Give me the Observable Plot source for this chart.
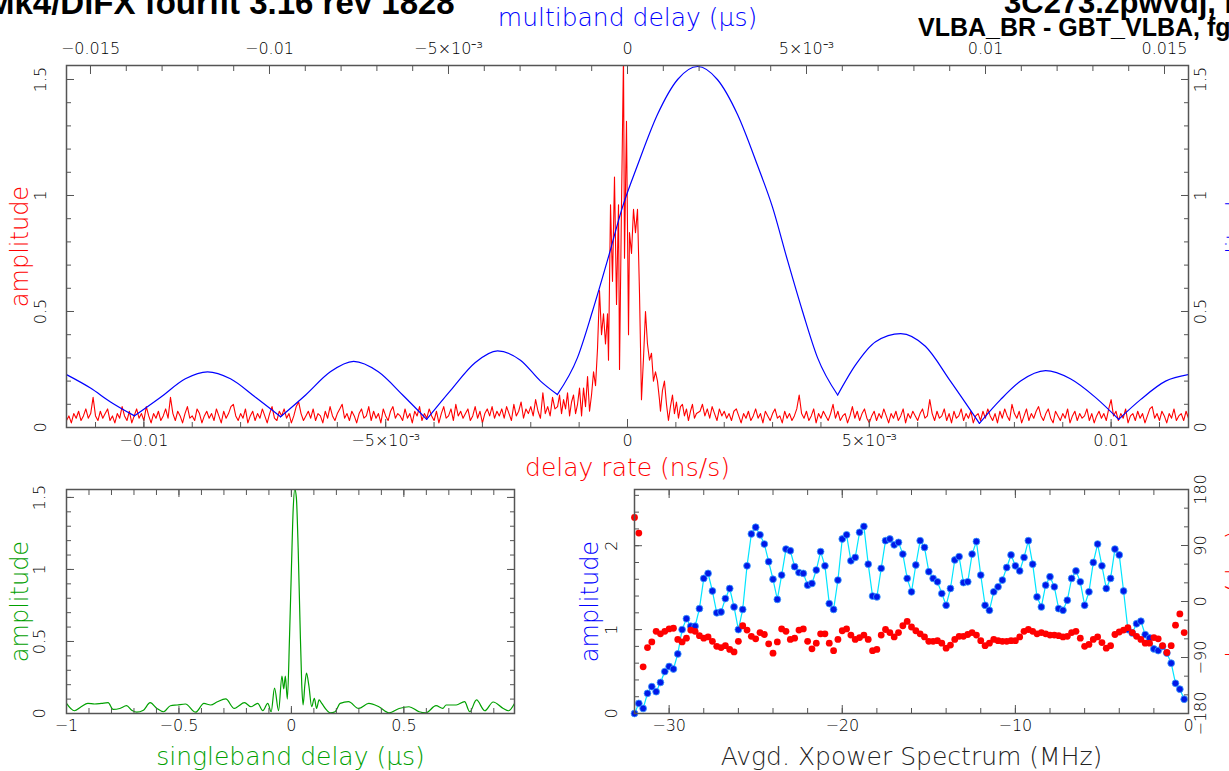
<!DOCTYPE html>
<html><head><meta charset="utf-8">
<script src="https://cdn.jsdelivr.net/npm/d3@7"></script>
<script src="https://cdn.jsdelivr.net/npm/@observablehq/plot@0.6"></script>
<style>
body{margin:0;background:#fff;}
#wrap{position:relative;width:1229px;height:771px;overflow:hidden;background:#fff;}
.ttl{position:absolute;font-family:"Liberation Sans",Arial,sans-serif;font-weight:bold;white-space:nowrap;color:#000;line-height:1;}
</style></head><body><div id="wrap">
<div class="ttl" style="left:-13px;top:-14px;font-size:33px;">Mk4/DiFX fourfit 3.16 rev 1828</div>
<div class="ttl" style="left:1004px;top:-13px;font-size:31px;">3C273.zpwvdj, No0004, BG</div>
<div class="ttl" style="left:918px;top:15px;font-size:25px;">VLBA_BR - GBT_VLBA, fgroup X, pol LL</div>
</div>
<script>
// ---------------- DATA ----------------
// multiband delay (us) vs amplitude (blue)
const multibandDelay = [-0.01567,-0.0150,-0.01444,-0.01377,-0.01304,-0.01235,-0.01173,-0.01109,-0.01039,-0.00969,-0.00899,-0.0083,-0.00765,-0.00696,-0.00628,-0.00561,-0.00494,-0.00425,-0.00363,-0.00299,-0.00243,-0.00196,-0.0014,-0.00098,-0.00056,-0.00014,0.00028,0.00084,0.0014,0.00196,0.00251,0.00307,0.00363,0.00405,0.00447,0.00489,0.00531,0.00587,0.00637,0.00693,0.00763,0.00832,0.00902,0.00983,0.01042,0.01098,0.01168,0.01237,0.01307,0.01372,0.01433,0.01503,0.01567];
const multibandAmp = [0.228,0.17,0.11,0.05,0.13,0.21,0.24,0.21,0.13,0.046,0.14,0.24,0.285,0.24,0.14,0.035,0.16,0.28,0.33,0.29,0.20,0.142,0.30,0.50,0.72,0.95,1.13,1.35,1.50,1.556,1.50,1.35,1.13,0.95,0.72,0.50,0.30,0.14,0.27,0.37,0.405,0.35,0.20,0.018,0.12,0.20,0.245,0.21,0.13,0.035,0.12,0.20,0.228];

// delay rate (ns/s) vs amplitude (red): left & right sampled every 5e-5 ns/s, centre listed
const rateStep = 0.00005;
const rateLeftStart = -0.0116;
const rateAmpLeft = [.03,.05,.02,.06,.04,.07,.03,.05,.08,.04,.06,.13,.05,.03,.07,.04,.06,.08,.03,.05,
.02,.06,.04,.09,.05,.03,.07,.02,.05,.08,.04,.06,.03,.09,.05,.02,.06,.04,.07,.03,
.05,.08,.04,.13,.06,.03,.07,.05,.02,.06,.09,.04,.05,.03,.08,.06,.02,.05,.07,.04,
.06,.03,.08,.05,.02,.07,.04,.06,.09,.10,.05,.03,.06,.04,.08,.02,.05,.07,.03,.06,
.04,.08,.05,.02,.06,.09,.04,.03,.07,.05,.08,.04,.06,.02,.05,.09,.11,.06,.03,.05,
.07,.04,.08,.03,.06,.05,.02,.07,.04,.09,.05,.03,.06,.08,.10,.04,.06,.03,.07,.05,
.02,.06,.08,.04,.05,.09,.03,.07,.04,.06,.02,.08,.05,.03,.07,.09,.04,.06,.05,.03,
.08,.04,.06,.02,.07,.05,.09,.03,.06,.04,.08,.05,.03,.07,.02,.06,.09,.04,.05,.08,
.03,.10,.05,.07,.04,.06,.08,.03,.05,.09,.04,.07,.02,.06,.08,.05,.09,.04,.07,.05,
.08,.04,.09,.06,.03,.10,.05,.07,.11,.04,.08,.06,.09,.05,.12,.07,.04,.15,.06,.09,
.05,.13,.08];
const rateCenter = [-0.001446,-0.001405,-0.001364,-0.001322,-0.001281,-0.00124,-0.001198,-0.001157,-0.001116,-0.001074,-0.001033,-0.000992,-0.00095,-0.000909,-0.000868,-0.000826,-0.000785,-0.000744,-0.000702,-0.000661,-0.00062,-0.000579,-0.000537,-0.000496,-0.000455,-0.000413,-0.000393,-0.000351,-0.00031,-0.000269,-0.000227,-0.000186,-0.000165,-0.000124,-0.000083,-0.000062,-0.000021,0.000021,0.000041,0.000083,0.000124,0.000165,0.000207,0.000248,0.000289,0.000331,0.000372,0.000413,0.000455,0.000496,0.000537,0.000579,0.00062,0.000661,0.000682,0.000723,0.000764,0.000806,0.000847,0.000888,0.00093,0.000971,0.001012,0.001054,0.001095,0.001136,0.001178,0.001219,0.00126,0.001302,0.001343,0.001384,0.001426];
const rateAmpCenter = [.09,.14,.06,.12,.08,.15,.05,.11,.14,.06,.10,.17,.05,.17,.09,.22,.07,.14,.24,.18,.34,.59,.40,.49,.36,.49,.29,.96,.63,1.08,.53,.96,.25,.96,1.60,.73,1.32,.40,.84,.75,.94,.84,.94,.58,.12,.30,.50,.36,.29,.32,.20,.24,.20,.12,.07,.16,.20,.10,.03,.09,.14,.06,.11,.04,.09,.10,.05,.08,.03,.07,.10,.04,.06];
const rateRightStart = 0.0015;
const rateAmpRight = [.07,.10,.05,.08,.04,.09,.06,.03,.08,.05,.07,.04,.06,.03,.07,.08,.05,.02,.06,.04,
.07,.03,.05,.08,.04,.06,.02,.07,.05,.03,.06,.08,.04,.05,.02,.07,.04,.06,.03,.05,
.08,.14,.06,.04,.07,.03,.05,.08,.02,.06,.04,.07,.05,.03,.06,.10,.04,.07,.03,.05,
.06,.02,.05,.09,.04,.07,.03,.06,.08,.04,.02,.05,.07,.03,.06,.04,.08,.05,.02,.06,
.04,.07,.03,.05,.08,.02,.06,.04,.07,.05,.03,.06,.08,.04,.05,.12,.06,.03,.07,.04,
.05,.08,.03,.06,.02,.07,.04,.05,.08,.03,.06,.04,.07,.02,.05,.06,.03,.07,.04,.08,
.05,.03,.06,.02,.07,.04,.08,.05,.03,.10,.06,.04,.07,.02,.05,.08,.03,.06,.04,.07,
.09,.05,.03,.06,.08,.04,.02,.07,.05,.03,.06,.04,.08,.02,.05,.07,.03,.06,.04,.05,
.08,.03,.06,.02,.05,.07,.04,.06,.03,.08,.12,.05,.07,.03,.06,.04,.08,.02,.05,.06,
.03,.07,.04,.06,.02,.05,.08,.09,.04,.06,.03,.07,.05,.02,.06,.04,.08,.03,.05,.06,
.03,.07,.04];

// singleband delay (us) vs amplitude (green)
const singlebandDelay = [-1.0,-0.965,-0.935,-0.905,-0.875,-0.845,-0.815,-0.793,-0.763,-0.733,-0.71,-0.688,-0.658,-0.628,-0.598,-0.568,-0.538,-0.508,-0.471,-0.426,-0.389,-0.359,-0.329,-0.292,-0.254,-0.239,-0.209,-0.179,-0.15,-0.127,-0.105,-0.09,-0.075,-0.057,-0.042,-0.034,-0.027,-0.018,-0.008,0,0.008,0.015,0.022,0.03,0.038,0.046,0.052,0.06,0.067,0.078,0.09,0.102,0.112,0.123,0.135,0.157,0.172,0.194,0.217,0.254,0.299,0.344,0.389,0.434,0.479,0.523,0.568,0.598,0.643,0.673,0.688,0.733,0.77,0.793,0.823,0.86,0.897,0.942,0.965,0.992];
const singlebandAmp = [.07,.019,.047,.07,.066,.07,.075,.028,.035,.054,.023,.009,.023,.075,.035,.012,.054,.059,.066,.009,.07,.059,.082,.101,.035,.047,.075,.047,.07,.019,.07,.012,.176,.02,.26,.17,.26,.10,.55,1.0,1.42,1.557,1.50,1.15,.65,.20,.06,.20,.28,.19,.047,.105,.035,.094,.07,.023,.005,.012,.07,.082,.035,.07,.047,.005,.035,.047,.012,.005,.054,.035,.059,.059,.082,.012,.094,.019,.08,.035,.019,.07];

// averaged cross-power spectrum: 128 channels, every 0.25 MHz from -32 MHz
const xpowerFreqStart = -32, xpowerFreqStep = 0.25;
const xpowerAmp = [0,0.12,0.06,0.24,0.32,0.26,0.37,0.50,0.56,0.53,
0.71,1.00,1.13,1.04,1.04,1.25,1.61,1.67,1.46,1.20,
1.21,1.37,1.49,1.27,1.00,1.24,1.76,2.14,2.22,2.13,
2.02,1.81,1.60,1.36,1.65,1.96,1.94,1.75,1.68,1.67,
1.53,1.55,1.71,1.93,1.76,1.31,1.24,1.59,2.08,2.13,
1.82,1.86,2.16,2.23,1.78,1.40,1.39,1.73,2.06,2.08,
2.01,2.04,1.90,1.61,1.45,1.77,2.06,1.98,1.69,1.61,
1.57,1.43,1.29,1.49,1.83,1.87,1.56,1.57,1.90,2.05,
1.65,1.29,1.23,1.45,1.51,1.59,1.74,1.89,1.76,1.70,
1.86,2.06,1.78,1.39,1.27,1.53,1.63,1.51,1.25,1.23,
1.35,1.61,1.70,1.57,1.29,1.45,1.80,2.02,1.76,1.49,
1.61,1.96,1.89,1.46,1.00,0.96,1.07,1.10,0.94,0.90,
0.77,0.75,0.80,0.72,0.60,0.36,0.29,0.17];
const xpowerPhase = [135,110,-105,-74,-65,-48,-52,-48,-44,-43,
-61,-65,-59,-46,-48,-55,-59,-57,-64,-72,
-74,-71,-77,-81,-64,-39,-46,-56,-60,-50,
-53,-68,-83,-65,-44,-48,-61,-59,-46,-44,
-64,-76,-67,-52,-52,-67,-79,-61,-47,-44,
-54,-61,-58,-54,-61,-79,-77,-54,-45,-50,
-57,-50,-39,-32,-41,-47,-52,-57,-64,-64,
-63,-67,-75,-70,-61,-56,-56,-53,-50,-54,
-63,-71,-67,-61,-63,-64,-64,-63,-63,-57,
-48,-45,-48,-52,-50,-52,-54,-54,-55,-57,
-56,-50,-48,-59,-72,-69,-61,-57,-66,-75,
-71,-53,-49,-46,-42,-50,-56,-61,-67,-67,
-58,-60,-71,-82,-71,-38,-20,-50];

// tick labels
const rateTickLabels = new Map([[-0.01,"−0.01"],[-0.005,"−5×10⁻³"],[0,"0"],[0.005,"5×10⁻³"],[0.01,"0.01"]]);
const mbdTickLabels = new Map([[-0.015,"−0.015"],[-0.01,"−0.01"],[-0.005,"−5×10⁻³"],[0,"0"],[0.005,"5×10⁻³"],[0.01,"0.01"],[0.015,"0.015"]]);
const ampTickLabels = new Map([[0,"0"],[0.5,"0.5"],[1,"1"],[1.5,"1.5"]]);
const sbdTickLabels = new Map([[-1,"−1"],[-0.5,"−0.5"],[0,"0"],[0.5,"0.5"]]);
const freqTickLabels = new Map([[-30,"−30"],[-20,"−20"],[-10,"−10"],[0,"0"]]);
const xampTickLabels = new Map([[0,"0"],[1,"1"],[2,"2"]]);
const phaseTickLabels = new Map([[-180,"−180"],[-90,"−90"],[0,"0"],[90,"90"],[180,"180"]]);

// ---------------- BUILD ----------------
const redData = [
  ...rateAmpLeft.map((a, j) => ({rate: rateLeftStart + j * rateStep, amp: a})),
  ...rateCenter.map((r, i) => ({rate: r, amp: rateAmpCenter[i]})),
  ...rateAmpRight.map((a, j) => ({rate: rateRightStart + j * rateStep, amp: a}))
];
function splitAtMinima(xs, ys) {
  const out = []; let seg = 0;
  for (let i = 0; i < xs.length; i++) {
    out.push({x: xs[i], y: ys[i], seg});
    if (i > 0 && i < xs.length - 1 && ys[i] < ys[i-1] && ys[i] < ys[i+1]) { seg++; out.push({x: xs[i], y: ys[i], seg}); }
  }
  return out;
}
const blueData = splitAtMinima(multibandDelay, multibandAmp);
const greenData = singlebandDelay.map((d, i) => ({d, a: singlebandAmp[i]}));
const xpData = xpowerAmp.map((a, k) => ({f: xpowerFreqStart + k * xpowerFreqStep, a, p: xpowerPhase[k]}));

const FONT = "'DejaVu Sans', sans-serif";
const FRAME = "#555";
const TXT = "#000";
const TITLE = 25;
const baseStyle = {background: "transparent", overflow: "visible", fontFamily: FONT, fontSize: "16px", color: TXT, fontWeight: "200"};
const range = (a, b, s) => d3.range(Math.round(a / s), Math.round(b / s) + 1).map(i => +(i * s).toFixed(6));

function tX(vals, anchor, size) { return Plot.axisX(vals, {anchor, tickSize: -size, tickFormat: () => "", label: null, stroke: FRAME}); }
function tY(vals, anchor, size) { return Plot.axisY(vals, {anchor, tickSize: -size, tickFormat: () => "", label: null, stroke: FRAME}); }
function lX(map, anchor, pad) { return Plot.axisX([...map.keys()], {anchor, tickSize: 0, tickPadding: pad, tickFormat: d => map.get(d), label: null, fill: TXT, fontSize: 16}); }
function lY(map, anchor, pad) { return Plot.axisY([...map.keys()], {anchor, tickSize: 0, tickPadding: pad, tickRotate: -90, textAnchor: "middle", tickFormat: d => map.get(d), label: null, fill: TXT, fontSize: 16}); }
function titleY(label, side, dx, color) { return Plot.text([label], {frameAnchor: side, dx, rotate: -90, textAnchor: "middle", lineAnchor: "middle", fill: color, fontSize: 24, fontWeight: 200}); }
function titleX(label, side, dy, color) { return Plot.text([label], {frameAnchor: side, dy, textAnchor: "middle", lineAnchor: "middle", fill: color, fontSize: TITLE, fontWeight: 200}); }

const wrap = document.getElementById("wrap");
function place(svg, left, top) { svg.style.position = "absolute"; svg.style.left = left + "px"; svg.style.top = top + "px"; svg.style.maxWidth = "none"; wrap.appendChild(svg); }

// Main panel, layer 1: delay rate (red)
const mainDims = {width: 1229, height: 470, marginTop: 65, marginRight: 41, marginBottom: 43, marginLeft: 66};
place(Plot.plot({
  ...mainDims, style: baseStyle,
  x: {domain: [-0.0116, 0.0116]}, y: {domain: [0, 1.5603]},
  marks: [
    Plot.line(redData, {x: "rate", y: "amp", stroke: "#ff0000", strokeWidth: 1.1, clip: true}),
    tX(range(-0.011, 0.011, 0.001), "bottom", 5),
    tX([...rateTickLabels.keys()], "bottom", 8),
    lX(rateTickLabels, "bottom", 7),
    tY(range(0, 1.5, 0.1), "left", 5),
    tY([...ampTickLabels.keys()], "left", 8),
    lY(ampTickLabels, "left", 21),
    titleY("amplitude", "left", -46, "#ff0000"),
    titleX("delay rate (ns/s)", "bottom", 40, "#ff0000")
  ]
}), 0, 0);

// Main panel, layer 2: multiband delay (blue)
place(Plot.plot({
  ...mainDims, style: baseStyle,
  x: {domain: [-0.01567, 0.01567]}, y: {domain: [0, 1.5603]},
  marks: [
    Plot.line(blueData, {x: "x", y: "y", z: "seg", stroke: "#0000ff", strokeWidth: 1.2, curve: "monotone-x", clip: true}),
    tX(range(-0.015, 0.015, 0.001), "top", 5),
    tX([...mbdTickLabels.keys()], "top", 8),
    lX(mbdTickLabels, "top", 12),
    tY(range(0, 1.5, 0.1), "right", 5),
    tY([...ampTickLabels.keys()], "right", 8),
    lY(ampTickLabels, "right", 17),
    titleY("amplitude", "right", 48, "#0000ff"),
    titleX("multiband delay (μs)", "top", -48, "#0000ff"),
    Plot.frame({stroke: FRAME, strokeWidth: 1.5})
  ]
}), 0, 0);

// Bottom-left: singleband delay (green)
place(Plot.plot({
  width: 560, height: 301, marginTop: 19, marginRight: 46, marginBottom: 58, marginLeft: 66, style: baseStyle,
  x: {domain: [-1, 0.992]}, y: {domain: [0, 1.555]},
  marks: [
    Plot.line(greenData, {x: "d", y: "a", stroke: "#00a000", strokeWidth: 1.2, curve: "monotone-x", clip: true}),
    tX(range(-1, 0.9, 0.1), "bottom", 5), tX(range(-1, 0.9, 0.1), "top", 5),
    tX([...sbdTickLabels.keys()], "bottom", 7), tX([...sbdTickLabels.keys()], "top", 7),
    lX(sbdTickLabels, "bottom", 6),
    tY(range(0, 1.5, 0.1), "left", 5), tY(range(0, 1.5, 0.1), "right", 5),
    tY([...ampTickLabels.keys()], "left", 8), tY([...ampTickLabels.keys()], "right", 8),
    lY(ampTickLabels, "left", 22),
    titleY("amplitude", "left", -46, "#00a000"),
    titleX("singleband delay (μs)", "bottom", 43, "#00a000"),
    Plot.frame({stroke: FRAME, strokeWidth: 1.5})
  ]
}), 0, 470);

// Bottom-right layer 1: amplitude
const xpDims = {width: 669, height: 301, marginTop: 19, marginRight: 41, marginBottom: 58, marginLeft: 74};
place(Plot.plot({
  ...xpDims, style: baseStyle,
  x: {domain: [-32, 0]}, y: {domain: [0, 2.67]},
  marks: [
    Plot.line(xpData, {x: "f", y: "a", stroke: "#00e5ff", strokeWidth: 1.2}),
    Plot.dot(xpData, {x: "f", y: "a", r: 3.4, fill: "#0018e8", stroke: "#3aa0ff", strokeWidth: 0.8}),
    tX(range(-32, 0, 2), "bottom", 5), tX(range(-32, 0, 2), "top", 5),
    tX([...freqTickLabels.keys()], "bottom", 8), tX([...freqTickLabels.keys()], "top", 8),
    lX(freqTickLabels, "bottom", 6),
    tY(range(0, 2.6, 0.2), "left", 5),
    tY([...xampTickLabels.keys()], "left", 8),
    lY(xampTickLabels, "left", 18),
    titleY("amplitude", "left", -44, "#0000ff"),
    titleX("Avgd. Xpower Spectrum (MHz)", "bottom", 43, "#222")
  ]
}), 560, 470);

// Bottom-right layer 2: phase
place(Plot.plot({
  ...xpDims, style: baseStyle,
  x: {domain: [-32, 0], axis: null}, y: {domain: [-180, 180]},
  marks: [
    Plot.dot(xpData, {x: "f", y: "p", r: 3.4, fill: "#ff0000"}),
    tY(range(-180, 180, 30), "right", 5),
    tY([...phaseTickLabels.keys()], "right", 8),
    lY(phaseTickLabels, "right", 17),
    titleY("phase (deg)", "right", 48, "#ff0000"),
    Plot.frame({stroke: FRAME, strokeWidth: 1.5})
  ]
}), 560, 470);
</script></body></html>
